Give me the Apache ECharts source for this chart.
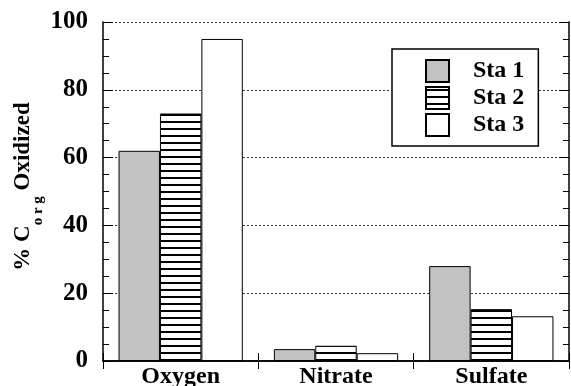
<!DOCTYPE html>
<html><head><meta charset="utf-8">
<script src="https://cdn.jsdelivr.net/npm/echarts@6/dist/echarts.min.js"></script>
<style>html,body{margin:0;padding:0;background:#fff}#c{width:571px;height:386px}</style>
</head><body><div id="c"></div>
<script>
const categories = ['Oxygen', 'Nitrate', 'Sulfate'];
const seriesNames = ['Sta 1', 'Sta 2', 'Sta 3'];
const sta1 = [62, 3.5, 28];
const sta2 = [73, 4.5, 15.3];
const sta3 = [95, 2.3, 13.2];
const yTicks = [0, 20, 40, 60, 80, 100];

const FONT = "Liberation Serif";

// horizontal stripe pattern for Sta 2
const pc = document.createElement('canvas');
pc.width = 8; pc.height = 7;
const g = pc.getContext('2d');
g.fillStyle = '#fff'; g.fillRect(0, 0, 8, 7);
g.fillStyle = '#000'; g.fillRect(0, 2, 8, 2);

const chart = echarts.init(document.getElementById('c'), null, {renderer: 'canvas'});
const border = {borderColor: '#000', borderWidth: 1};
chart.setOption({
  animation: false,
  backgroundColor: '#fff',
  grid: {left: 103, right: 2, top: 22, bottom: 25, containLabel: false, outerBoundsMode: 'none'},
  legend: {
    orient: 'vertical', left: 392, top: 49,
    backgroundColor: '#fff', borderColor: '#000', borderWidth: 1.5,
    padding: [10, 14, 9, 33],
    itemWidth: 23, itemHeight: 22, itemGap: 3,
    icon: 'rect',
    textStyle: {fontFamily: FONT, fontWeight: 'bold', fontSize: 24, color: '#000', padding: [0, 0, 0, 19]},
    data: seriesNames
  },
  xAxis: [{
    type: 'category', data: categories, position: 'bottom',
    axisLine: {lineStyle: {color: '#000', width: 1.5}},
    axisTick: {show: true, inside: true, length: 8, lineStyle: {color: '#000'}},
    axisLabel: {fontFamily: FONT, fontWeight: 'bold', fontSize: 24, color: '#000', margin: 4}
  }, {
    type: 'category', data: categories, position: 'top',
    axisLine: {lineStyle: {color: '#000', width: 1.5}},
    axisTick: {show: true, inside: true, length: 8, lineStyle: {color: '#000'}},
    axisLabel: {show: false}
  }],
  yAxis: [{
    type: 'value', min: 0, max: 100, interval: 20,
    name: '{a|% C}{b|o r g}{a| Oxidized}',
    nameLocation: 'middle', nameGap: 57, nameMoveOverlap: false,
    nameTextStyle: {
      padding: [0, 0, 0, 10],
      rich: {
        a: {fontFamily: FONT, fontWeight: 'bold', fontSize: 23, color: '#000', lineHeight: 34, verticalAlign: 'top'},
        b: {fontFamily: FONT, fontWeight: 'bold', fontSize: 15, color: '#000', lineHeight: 15, verticalAlign: 'bottom'}
      }
    },
    axisLine: {show: true, lineStyle: {color: '#000', width: 1.5}},
    axisTick: {show: true, inside: true, length: 10, lineStyle: {color: '#000'}},
    minorTick: {show: true, splitNumber: 4, length: 6, lineStyle: {color: '#000'}},
    axisLabel: {fontFamily: FONT, fontWeight: 'bold', fontSize: 25, color: '#000', margin: 15,
      formatter: v => yTicks.includes(v) ? String(v) : ''},
    splitLine: {show: true, lineStyle: {color: '#333', type: [2, 2], width: 1}}
  }, {
    type: 'value', min: 0, max: 100, interval: 20, position: 'right',
    axisLine: {show: true, lineStyle: {color: '#000', width: 1.5}},
    axisTick: {show: true, inside: true, length: 10, lineStyle: {color: '#000'}},
    minorTick: {show: true, splitNumber: 4, length: 6, lineStyle: {color: '#000'}},
    axisLabel: {show: false},
    splitLine: {show: false}
  }],
  series: [
    {name: seriesNames[0], type: 'bar', data: sta1, barGap: '0%', barCategoryGap: '20%',
      itemStyle: Object.assign({color: '#c2c2c2'}, border)},
    {name: seriesNames[1], type: 'bar', data: sta2, barGap: '0%', barCategoryGap: '20%',
      itemStyle: Object.assign({color: {image: pc, repeat: 'repeat'}}, border)},
    {name: seriesNames[2], type: 'bar', data: sta3, barGap: '0%', barCategoryGap: '20%',
      itemStyle: Object.assign({color: '#fff'}, border)}
  ]
});
</script></body></html>
